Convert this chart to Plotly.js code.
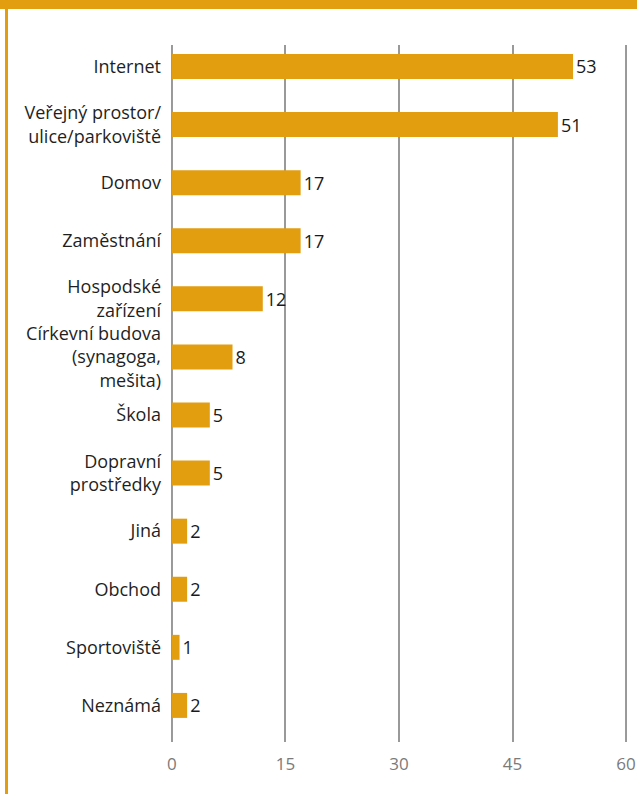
<!DOCTYPE html>
<html>
<head>
<meta charset="utf-8">
<script src="https://cdn.plot.ly/plotly-3.0.1.min.js"></script>
<style>
  html, body { margin: 0; padding: 0; background: #ffffff; }
  #wrap { position: relative; width: 637px; height: 794px; overflow: hidden; }
  #chart { width: 637px; height: 794px; }
  #topband { position: absolute; left: 0; top: 0; width: 637px; height: 9px; background: #E39E10; }
  #leftline { position: absolute; left: 5px; top: 0; width: 3px; height: 794px; background: #E39E10; }
</style>
</head>
<body>
<div id="wrap">
  <div id="chart"></div>
  <div id="topband"></div>
  <div id="leftline"></div>
</div>
<script>
const categories = [
  "Internet",
  "Veřejný prostor/<br>ulice/parkoviště",
  "Domov",
  "Zaměstnání",
  "Hospodské<br>zařízení",
  "Církevní budova<br>(synagoga,<br>mešita)",
  "Škola",
  "Dopravní<br>prostředky",
  "Jiná",
  "Obchod",
  "Sportoviště",
  "Neznámá"
];
const values = [53, 51, 17, 17, 12, 8, 5, 5, 2, 2, 1, 2];
const xTicks = [0, 15, 30, 45, 60];

const barColor = "#E39E10";
const gridColor = "#999999";

// edge gridlines (first and last tick) drawn as shapes, since Plotly skips them at the plot edges
const edgeGrid = [xTicks[0], xTicks[xTicks.length - 1]].map(v => ({
  type: "line", layer: "below", xref: "x", yref: "paper",
  x0: v, x1: v, y0: 0, y1: 1,
  line: { color: gridColor, width: 2 }
}));

Plotly.newPlot("chart", [{
  type: "bar",
  orientation: "h",
  x: values,
  y: categories,
  marker: { color: barColor, line: { width: 0 } },
  text: values.map(String),
  textposition: "outside",
  cliponaxis: false,
  textfont: { family: "Open Sans, sans-serif", size: 18, color: "#1a1a1a" },
  hoverinfo: "skip"
}], {
  width: 637,
  height: 794,
  margin: { l: 171, r: 10, t: 45, b: 52 },
  paper_bgcolor: "#ffffff",
  plot_bgcolor: "#ffffff",
  bargap: 0.57,
  showlegend: false,
  shapes: edgeGrid,
  xaxis: {
    range: [-0.13, 60.13],
    tickvals: xTicks,
    ticktext: xTicks.map(String),
    showgrid: true,
    gridcolor: gridColor,
    gridwidth: 2,
    zeroline: false,
    showline: false,
    ticks: "",
    ticklabelstandoff: 10,
    tickfont: { family: "Open Sans, sans-serif", size: 17, color: "#7a7a7a" }
  },
  yaxis: {
    range: [11.63, -0.37],
    showgrid: false,
    zeroline: false,
    showline: false,
    ticks: "",
    ticklabelstandoff: 9,
    tickfont: { family: "Open Sans, sans-serif", size: 18, color: "#1f1f1f" }
  }
}, { displayModeBar: false, staticPlot: true });
</script>
</body>
</html>
